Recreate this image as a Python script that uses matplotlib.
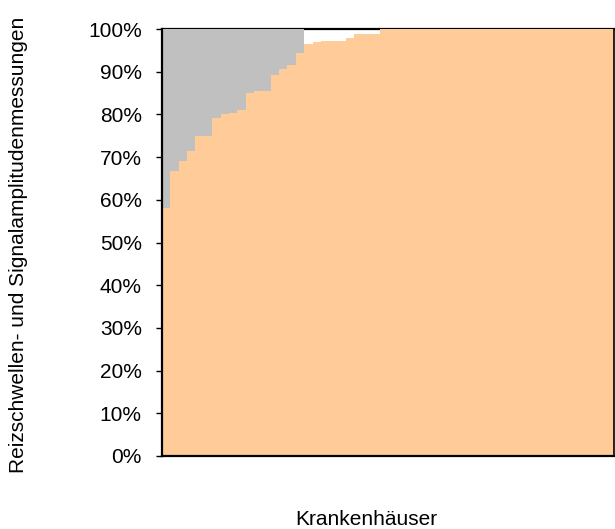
"""Gestapeltes Balkendiagramm: Anteil der Reizschwellen- und Signalamplitudenmessungen je Krankenhaus."""

import matplotlib

matplotlib.use("Agg")

import matplotlib.pyplot as plt
import numpy as np
from matplotlib.ticker import PercentFormatter

plt.rcParams["font.family"] = ["Liberation Sans", "DejaVu Sans"]

# Anteil (%) je Krankenhaus, aufsteigend sortiert
gemessen = [
    58.1, 66.7, 69.2, 71.4, 74.9, 74.9, 79.1, 80.0, 80.4, 81.0,
    85.0, 85.6, 85.6, 89.3, 90.6, 91.5, 94.4,
    96.6, 96.9, 97.2, 97.2, 97.2, 98.0, 98.9, 98.9, 98.9,
    100, 100, 100, 100, 100, 100, 100, 100, 100, 100,
    100, 100, 100, 100, 100, 100, 100, 100, 100, 100,
    100, 100, 100, 100, 100, 100, 100, 100,
]
# fehlender Anteil bei Krankenhäusern mit Lücke
fehlend = [
    41.9, 33.3, 30.8, 28.6, 25.1, 25.1, 20.9, 20.0, 19.6, 19.0,
    15.0, 14.4, 14.4, 10.7, 9.4, 8.5, 5.6,
] + [0] * 37
y_ticks = [0, 10, 20, 30, 40, 50, 60, 70, 80, 90, 100]

x = np.arange(len(gemessen))

fig = plt.figure(figsize=(6.15, 5.29), dpi=100)
ax = fig.add_axes([0.2634, 0.138, 0.7346, 0.807])

ax.bar(x, gemessen, width=1.0, color="#FFCC99", linewidth=0, zorder=1)
ax.bar(x, fehlend, bottom=gemessen, width=1.0, color="#C0C0C0", linewidth=0, zorder=1)

ax.set_xlim(-0.5, len(gemessen) - 0.5)
ax.set_ylim(0, 100)
ax.set_yticks(y_ticks)
ax.yaxis.set_major_formatter(PercentFormatter(decimals=0))
ax.tick_params(axis="y", direction="out", length=4.5, width=1, pad=10, labelsize=15)
ax.set_xticks([])

for side in ["left", "bottom"]:
    ax.spines[side].set_linewidth(1.6)
    ax.spines[side].set_zorder(3)
ax.spines["right"].set_linewidth(1.2)
ax.spines["top"].set_linewidth(1.6)
ax.spines["top"].set_zorder(0.5)

fig.text(19 / 615, 0.538, "Reizschwellen- und Signalamplitudenmessungen",
         rotation=90, ha="center", va="center", fontsize=15)
fig.text(366 / 615, 1 - 525 / 529, "Krankenhäuser", ha="center", va="baseline", fontsize=15)

fig.savefig("out.png", dpi=100)
plt.close(fig)
